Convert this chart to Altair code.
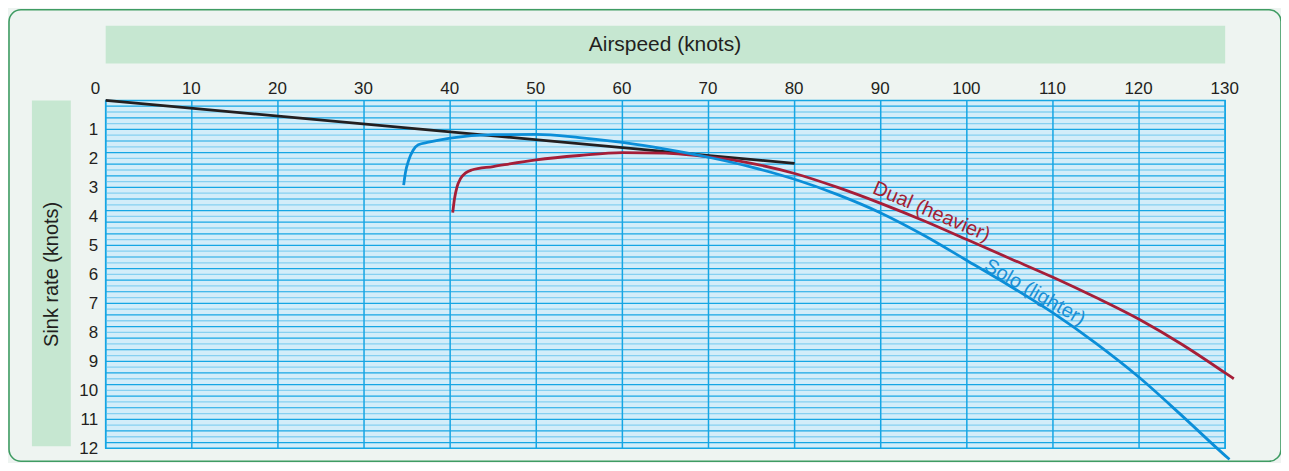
import altair as alt
import pandas as pd

# ---------------- data ----------------
solo_airspeed = [34.6, 34.8, 35.2, 35.7, 36.3, 37.5, 40, 45, 50, 55, 60, 65, 70, 75, 80,
                 85, 90, 95, 100, 105, 110, 115, 120, 125, 130, 130.5]
solo_sink = [2.92, 2.5, 2.05, 1.72, 1.53, 1.44, 1.3, 1.18, 1.17, 1.28, 1.45, 1.68, 1.96, 2.3, 2.72,
             3.25, 3.88, 4.65, 5.52, 6.4, 7.33, 8.38, 9.55, 10.88, 12.25, 12.38]

dual_airspeed = [40.3, 40.5, 40.8, 41.2, 41.8, 42.5, 45, 50, 55, 60, 65, 70, 75, 80,
                 85, 90, 95, 100, 105, 110, 115, 120, 125, 130, 131]
dual_sink = [3.87, 3.4, 2.98, 2.7, 2.5, 2.4, 2.28, 2.05, 1.9, 1.8, 1.82, 1.95, 2.17, 2.52,
             3.0, 3.55, 4.15, 4.8, 5.45, 6.1, 6.8, 7.55, 8.42, 9.4, 9.6]

tangent_airspeed = [0, 80]
tangent_sink = [0.0, 2.17]

x_ticks = list(range(0, 140, 10))
y_ticks = list(range(1, 13))
y_grid_dark = [round(0.2 * k, 1) for k in range(1, 60, 2)]
y_grid_light = [round(0.2 * k, 1) for k in range(2, 60, 2)]

dual_label = "Dual (heavier)"
dual_label_at = (95.9, 3.84)
solo_label = "Solo (lighter)"
solo_label_at = (107.9, 6.62)

# ---------------- layout ----------------
W, H = 1123, 349
FONT = "Liberation Sans"
TXT = "#231f20"

xs = alt.Scale(domain=[0, 130], nice=False, zero=False)
ys = alt.Scale(domain=[0, 12], reverse=True, nice=False, zero=False)

x_axis = alt.Axis(
    orient="top", values=x_ticks, grid=False, ticks=False, tickSize=0, domain=False,
    labelFont=FONT, labelFontSize=17, labelColor=TXT, labelPadding=3, labelOverlap=False,
    labelAlign={"condition": {"test": "datum.value == 0", "value": "right"}, "value": "center"},
    labelOffset={"condition": {"test": "datum.value == 0", "value": -6}, "value": -1},
    title="Airspeed (knots)", titleFont=FONT, titleFontSize=21, titleFontWeight="normal",
    titleColor=TXT, titleX=W / 2 - 1, titleY=-56, titleBaseline="middle", titleAlign="center",
    zindex=1,
)
y_axis = alt.Axis(
    orient="left", values=y_ticks, grid=False, ticks=False, tickSize=0, domain=False,
    labelFont=FONT, labelFontSize=17, labelColor=TXT, labelPadding=8, labelOverlap=False,
    labelBound=False, labelSeparation=0,
    title="Sink rate (knots)", titleFont=FONT, titleFontSize=20, titleFontWeight="normal",
    titleColor=TXT, titleX=-54, titleY=174, titleBaseline="middle", titleAlign="center",
    titleAngle=-90, zindex=1,
)


def X(field):
    return alt.X(field, scale=xs, axis=x_axis)


def Y(field):
    return alt.Y(field, scale=ys, axis=y_axis)


one = pd.DataFrame({"a": [0]})

frame = alt.Chart(one).mark_rect(
    filled=False, stroke="#3f9c63", strokeWidth=1.6, cornerRadius=12
).encode(x=alt.value(-97), x2=alt.value(W + 56), y=alt.value(-91), y2=alt.value(H + 13))

band_top = alt.Chart(one).mark_rect(color="#c6e7d1").encode(
    x=alt.value(0), x2=alt.value(W), y=alt.value(-75), y2=alt.value(-37))
band_left = alt.Chart(one).mark_rect(color="#c6e7d1").encode(
    x=alt.value(-74), x2=alt.value(-35), y=alt.value(0), y2=alt.value(H - 2))

grid_light = alt.Chart(pd.DataFrame({"y": y_grid_light})).mark_rule(
    color="#86d0f1", strokeWidth=1.3).encode(y=Y("y:Q"))
grid_dark = alt.Chart(pd.DataFrame({"y": y_grid_dark})).mark_rule(
    color="#16a6e4", strokeWidth=1.2).encode(y=Y("y:Q"))
grid_v = alt.Chart(pd.DataFrame({"x": x_ticks})).mark_rule(
    color="#16a6e4", strokeWidth=1.5).encode(x=X("x:Q"))

tangent = alt.Chart(pd.DataFrame({"x": tangent_airspeed, "y": tangent_sink})).mark_line(
    color="#231f20", strokeWidth=2.8).encode(x=X("x:Q"), y=Y("y:Q"))

dual = alt.Chart(pd.DataFrame({"x": dual_airspeed, "y": dual_sink})).mark_line(
    color="#a61e38", strokeWidth=2.8, interpolate="monotone").encode(
    x=X("x:Q"), y=Y("y:Q"), order="x:Q")

solo = alt.Chart(pd.DataFrame({"x": solo_airspeed, "y": solo_sink})).mark_line(
    color="#0b8ed8", strokeWidth=2.8, interpolate="monotone").encode(
    x=X("x:Q"), y=Y("y:Q"), order="x:Q")

dual_txt = alt.Chart(pd.DataFrame({"x": [dual_label_at[0]], "y": [dual_label_at[1]], "t": [dual_label]})).mark_text(
    angle=23, font=FONT, fontSize=20, color="#a31f34", align="center", baseline="middle").encode(
    x=X("x:Q"), y=Y("y:Q"), text="t:N")

solo_txt = alt.Chart(pd.DataFrame({"x": [solo_label_at[0]], "y": [solo_label_at[1]], "t": [solo_label]})).mark_text(
    angle=30, font=FONT, fontSize=20, color="#1a8fd5", align="center", baseline="middle").encode(
    x=X("x:Q"), y=Y("y:Q"), text="t:N")

chart = alt.layer(
    frame, band_top, band_left, grid_light, grid_dark, grid_v,
    tangent, dual, solo, dual_txt, solo_txt,
).properties(
    width=W, height=H,
    autosize=alt.AutoSizeParams(type="none"),
    padding={"left": 98, "top": 92, "right": 56, "bottom": 14},
).configure(
    background="#eef4f1",
).configure_view(
    fill="#d3edf9", stroke="#16a6e4", strokeWidth=1.5,
)

chart.save("out.html", embed_options={"renderer": "svg", "actions": False})
